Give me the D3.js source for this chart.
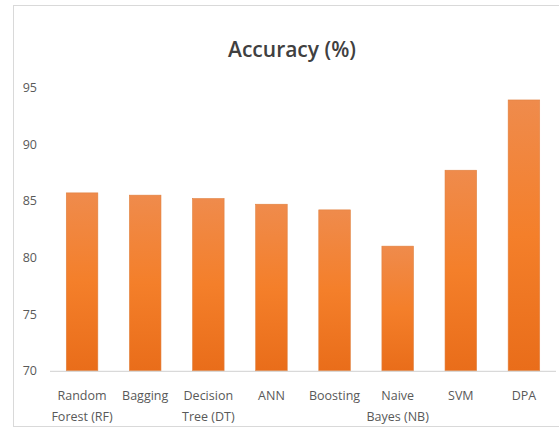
<!DOCTYPE html>
<html>
<head>
<meta charset="utf-8">
<script src="https://cdn.jsdelivr.net/npm/d3@7"></script>
<style>
  body { margin: 0; background: #fff; }
  text { font-family: "Open Sans", sans-serif; }
</style>
</head>
<body>
<script>
// chart data
var categories = ["Random\nForest (RF)", "Bagging", "Decision\nTree (DT)", "ANN",
                  "Boosting", "Naive\nBayes (NB)", "SVM", "DPA"];
var accuracy = [85.7, 85.5, 85.2, 84.7, 84.2, 81.0, 87.7, 93.9];
var yTicks = [70, 75, 80, 85, 90, 95];

var svg = d3.select("body").append("svg")
  .attr("width", 559)
  .attr("height", 438);

// gradient for the bars
var grad = svg.append("defs").append("linearGradient")
  .attr("id", "barGrad")
  .attr("x1", 0).attr("y1", 0).attr("x2", 0).attr("y2", 1);
grad.append("stop").attr("offset", "0%").attr("stop-color", "#ef8b4c");
grad.append("stop").attr("offset", "50%").attr("stop-color", "#f47f2a");
grad.append("stop").attr("offset", "100%").attr("stop-color", "#e96d1a");

// chart frame
svg.append("rect")
  .attr("x", 13.5).attr("y", 5.5)
  .attr("width", 560).attr("height", 421)
  .attr("fill", "none")
  .attr("stroke", "#d9d9d9");

var x = d3.scaleBand()
  .domain(categories)
  .range([50.5, 555.5])
  .paddingInner(0.5)
  .paddingOuter(0.25);

var y = d3.scaleLinear()
  .domain([70, 95])
  .range([370.8, 87.5]);

// title
svg.append("text")
  .attr("x", 292)
  .attr("y", 57)
  .attr("text-anchor", "middle")
  .style("font-size", "21px")
  .style("font-weight", 600)
  .style("fill", "#404040")
  .text("Accuracy (%)");

// y axis labels
var yAxis = d3.axisLeft(y).tickValues(yTicks).tickSize(0).tickPadding(0);
var gy = svg.append("g").attr("transform", "translate(37,0)").call(yAxis);
gy.select(".domain").remove();
gy.selectAll("text")
  .style("font-family", "Open Sans, sans-serif")
  .style("font-size", "12.5px")
  .style("fill", "#595959");

// bars
svg.selectAll(".bar")
  .data(accuracy)
  .enter().append("rect")
  .attr("class", "bar")
  .attr("x", function(d, i) { return x(categories[i]); })
  .attr("y", function(d) { return y(d); })
  .attr("width", x.bandwidth())
  .attr("height", function(d) { return y(70) - y(d); })
  .attr("fill", "url(#barGrad)")
  .attr("stroke", "#e0803f")
  .attr("stroke-width", 0.6);

// x axis line
svg.append("line")
  .attr("x1", 50).attr("x2", 556)
  .attr("y1", y(70) + 0.5).attr("y2", y(70) + 0.5)
  .attr("stroke", "#d0d0d0")
  .attr("stroke-width", 1);

// category labels
var labels = svg.selectAll(".cat")
  .data(categories)
  .enter().append("text")
  .attr("class", "cat")
  .attr("text-anchor", "middle")
  .style("font-size", "12.5px")
  .style("fill", "#595959");

labels.each(function(d) {
  var t = d3.select(this);
  d.split("\n").forEach(function(line, k) {
    t.append("tspan")
      .attr("x", x(d) + x.bandwidth() / 2)
      .attr("y", 400 + k * 21)
      .text(line);
  });
});
</script>
</body>
</html>
